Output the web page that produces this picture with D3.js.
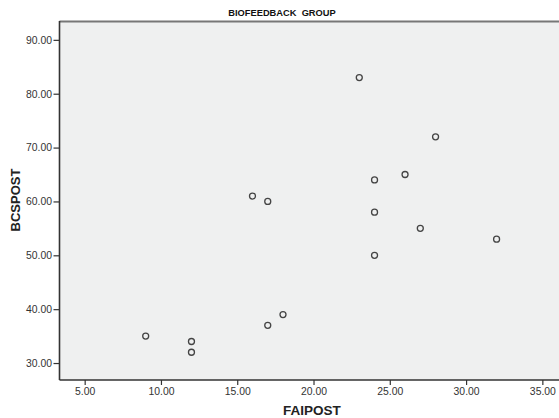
<!DOCTYPE html>
<html><head><meta charset="utf-8">
<script src="https://cdn.jsdelivr.net/npm/d3@7"></script>
<style>
html,body{margin:0;padding:0;background:#fff;overflow:hidden}
text{font-family:"Liberation Sans",Arial,sans-serif}
</style></head>
<body>
<svg id="c" width="559" height="418"></svg>
<script>
const faipost = [9, 12, 12, 17, 18, 16, 17, 23, 28, 26, 24, 24, 24, 27, 32];
const bcspost = [35, 34, 32, 37, 39, 61, 60, 83, 72, 65, 64, 58, 50, 55, 53];
const xTicks = [5, 10, 15, 20, 25, 30, 35];
const yTicks = [30, 40, 50, 60, 70, 80, 90];
const title = "BIOFEEDBACK  GROUP";
const xTitle = "FAIPOST";
const yTitle = "BCSPOST";

const svg = d3.select("#c");
const L = 59.5, R = 566, T = 21, B = 380;
const x = d3.scaleLinear().domain([3.35, 36.55]).range([L, R]);
const y = d3.scaleLinear().domain([26.85, 93.5]).range([B, T]);

svg.append("rect").attr("x", L).attr("y", T).attr("width", R - L).attr("height", B - T).attr("fill", "#eff0f0");
svg.append("line").attr("x1", L).attr("x2", R).attr("y1", T + 0.5).attr("y2", T + 0.5).attr("stroke", "#777").attr("stroke-width", 2);

const fmt = d3.format(".2f");
const xa = svg.append("g").attr("transform", `translate(0,${B})`)
  .call(d3.axisBottom(x).tickValues(xTicks).tickFormat(fmt).tickSize(5).tickSizeOuter(0).tickPadding(3));
const ya = svg.append("g").attr("transform", `translate(${L},0)`)
  .call(d3.axisLeft(y).tickValues(yTicks).tickFormat(fmt).tickSize(6).tickSizeOuter(0).tickPadding(1.5));
[xa, ya].forEach(a => {
  a.select(".domain").attr("stroke", "#333").attr("stroke-width", 1.6);
  a.selectAll(".tick line").attr("stroke", "#333").attr("stroke-width", 1.2);
  a.selectAll(".tick text").attr("fill", "#333").style("font-size", "10.4px").style("font-family", "'Liberation Sans',Arial,sans-serif");
});
xa.select(".domain").attr("d", `M${L},0H${R}`);
ya.select(".domain").attr("d", `M0,${T}V${B}`);

svg.append("g").selectAll("circle").data(faipost.map((v, i) => [v, bcspost[i]]))
  .join("circle")
  .attr("cx", d => x(d[0])).attr("cy", d => y(d[1])).attr("r", 3)
  .attr("fill", "none").attr("stroke", "#444").attr("stroke-width", 1.3);

svg.append("text").attr("x", 282).attr("y", 16).attr("text-anchor", "middle")
  .style("font-size", "9.3px").style("font-weight", "bold").attr("fill", "#111").style("white-space", "pre").text(title);
svg.append("text").attr("x", 312).attr("y", 415).attr("text-anchor", "middle")
  .style("font-size", "13.5px").style("font-weight", "bold").attr("fill", "#222").text(xTitle);
svg.append("text").attr("transform", "translate(20,200) rotate(-90)").attr("text-anchor", "middle")
  .style("font-size", "13px").style("font-weight", "bold").attr("fill", "#222").text(yTitle);
</script>
</body></html>
